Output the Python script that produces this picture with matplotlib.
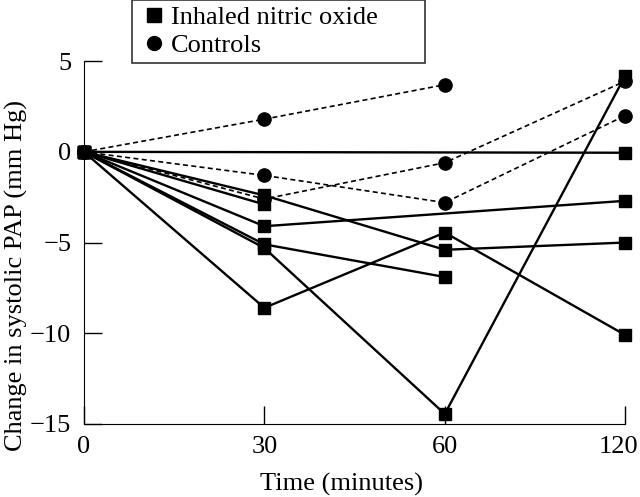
import numpy as np
import matplotlib.pyplot as plt
import matplotlib.transforms as mtransforms

plt.rcParams['font.family'] = ['Liberation Serif', 'DejaVu Serif']

# time points (plotted equally spaced, as in the original figure)
times = [0, 30, 60, 120]

# change in systolic PAP (mm Hg); None = no measurement
nitric_oxide = [
    [0, None, None, -0.05],
    [0, -2.4, -5.4, -5.0],
    [0, -2.9, None, None],
    [0, -4.1, None, -2.7],
    [0, -5.1, -6.9, None],
    [0, -5.3, -14.45, 4.2],
    [0, -8.6, -4.45, -10.1],
]
controls = [
    [0, 1.8, 3.7, None],
    [0, -1.3, -2.8, 2.0],
    [0, -2.6, -0.6, 3.9],
]

fig = plt.figure(figsize=(6.4, 4.97), dpi=100)
ax = fig.add_axes([0.131, 0.147, 0.846, 0.730])

pos = np.arange(len(times))


def draw(series, marker, ms, ls, lw):
    for s in series:
        xs = [p for p, v in zip(pos, s) if v is not None]
        ys = [v for v in s if v is not None]
        ax.plot(xs, ys, color='black', linestyle=ls, linewidth=lw,
                marker=marker, markersize=ms, clip_on=False)


draw(nitric_oxide, 's', 9, '-', 1.7)
draw(controls, 'o', 9.5, (0, (3, 2)), 1.2)

ax.set_xlim(0, 3)
ax.set_ylim(-15, 5)
ax.set_xticks(pos)
ax.set_xticklabels([str(t) for t in times])
ax.set_yticks([5, 0, -5, -10, -15])
ax.spines['top'].set_visible(False)
ax.spines['right'].set_visible(False)
ax.tick_params(direction='in', length=13, width=1, labelsize=19, pad=9)

# nudge the last tick label so it stays inside the figure
last = ax.get_xticklabels()[-1]
last.set_transform(last.get_transform() +
                   mtransforms.ScaledTranslation(-5 / 72, 0, fig.dpi_scale_trans))

ax.set_xlabel('Time (minutes)', fontsize=19, labelpad=8)
ax.xaxis.set_label_coords(0.476, -0.135)
ax.set_ylabel('Change in systolic PAP (mm Hg)', fontsize=19)
ax.yaxis.set_label_coords(-0.103, 0.41)

h1, = ax.plot([], [], 's', color='black', markersize=9.5)
h2, = ax.plot([], [], 'o', color='black', markersize=10)
leg = fig.legend([h1, h2], ['Inhaled nitric oxide', 'Controls'],
                 loc='upper left', bbox_to_anchor=(0.207, 0.875, 0.457, 0.125),
                 mode='expand', fontsize=19, frameon=True, fancybox=False,
                 edgecolor='black', labelspacing=0.2, handlelength=1.2,
                 handletextpad=0.05, borderpad=0.2, borderaxespad=0)
leg.get_frame().set_linewidth(1.2)

fig.savefig('out.png', dpi=100)
